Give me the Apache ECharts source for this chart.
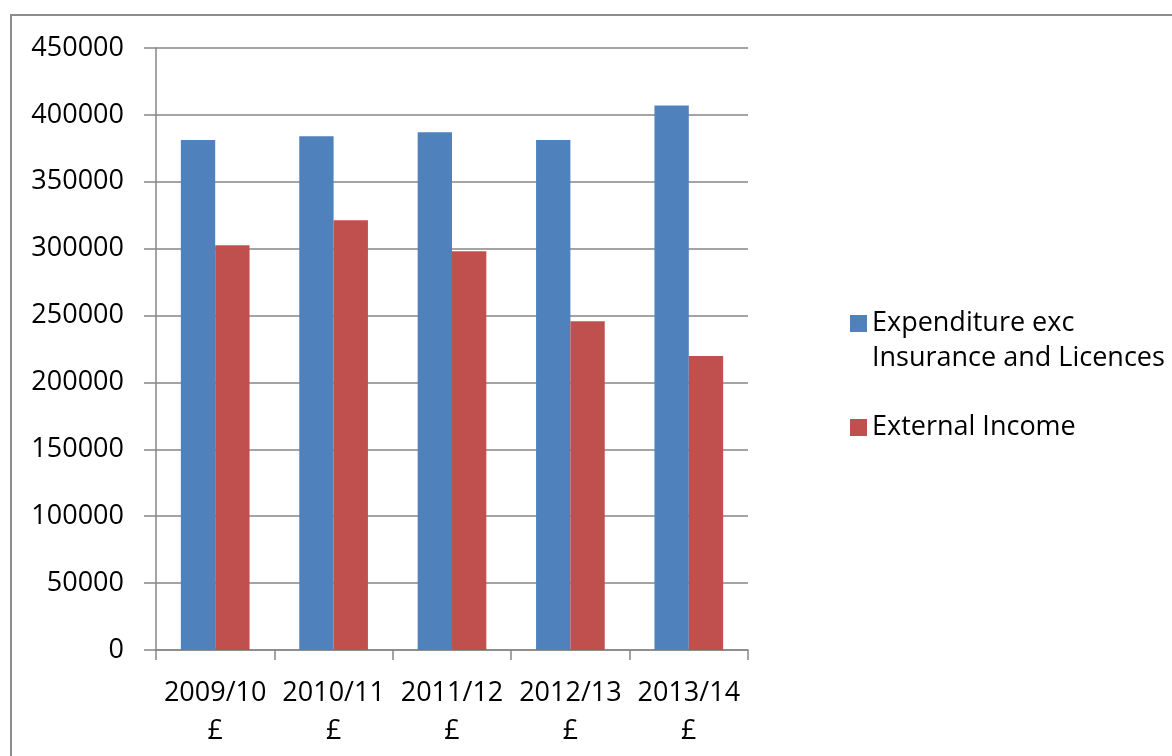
<!DOCTYPE html>
<html><head><meta charset="utf-8">
<script src="https://cdn.jsdelivr.net/npm/echarts@6/dist/echarts.min.js"></script>
<style>html,body{margin:0;padding:0;background:#fff}#c{width:1172px;height:756px}</style>
</head><body><div id="c"></div>
<script>
const categories = ['2009/10\n£', '2010/11\n£', '2011/12\n£', '2012/13\n£', '2013/14\n£'];
const expenditure = [381300, 384100, 387100, 381300, 407000];
const externalIncome = [302600, 321300, 298100, 245700, 219800];
const seriesNames = ['Expenditure exc\nInsurance and Licences', 'External Income'];

const FONT = 'Open Sans';
const chart = echarts.init(document.getElementById('c'), null, {renderer: 'canvas'});
chart.setOption({
  animation: false,
  backgroundColor: '#fff',
  textStyle: {fontFamily: FONT},
  graphic: [{
    type: 'rect', shape: {x: 11, y: 15, width: 1300, height: 900},
    style: {fill: 'none', stroke: '#8c8c8c', lineWidth: 2}, silent: true, z: -1
  }],
  grid: {left: 156, right: 424, top: 48, bottom: 106},
  legend: {
    orient: 'vertical', left: 845, top: 266, itemWidth: 17, itemHeight: 17,
    itemGap: 34, icon: 'rect',
    textStyle: {fontFamily: FONT, fontSize: 27, color: '#000', lineHeight: 35},
    formatter: name => name.indexOf('\n') >= 0 ? ' \n' + name : name,
    data: seriesNames
  },
  xAxis: {
    type: 'category', data: categories,
    axisLine: {lineStyle: {color: '#868686', width: 1.5}},
    axisTick: {show: true, length: 10, lineStyle: {color: '#868686', width: 1.5}},
    axisLabel: {fontFamily: FONT, fontSize: 27, color: '#000', lineHeight: 38, margin: 24, interval: 0}
  },
  yAxis: {
    type: 'value', min: 0, max: 450000, interval: 50000,
    axisLine: {show: true, lineStyle: {color: '#868686', width: 1.5}},
    axisTick: {show: true, length: 12, lineStyle: {color: '#868686', width: 1.5}},
    splitLine: {lineStyle: {color: '#868686', width: 1.5}},
    axisLabel: {fontFamily: FONT, fontSize: 27, color: '#000', margin: 32, formatter: v => String(v)}
  },
  series: [
    {name: seriesNames[0], type: 'bar', data: expenditure, barGap: '0%', barCategoryGap: '42%',
     itemStyle: {color: '#4F81BD'}},
    {name: seriesNames[1], type: 'bar', data: externalIncome,
     itemStyle: {color: '#C0504D'}}
  ]
});
</script></body></html>
